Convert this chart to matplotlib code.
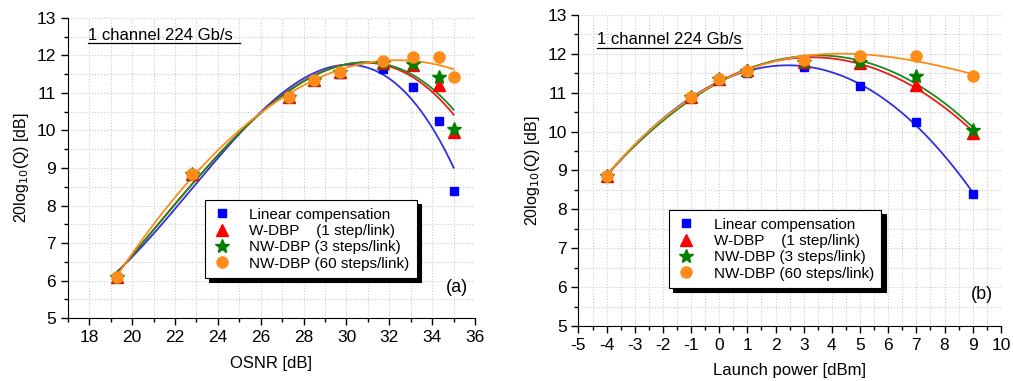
import numpy as np
import matplotlib.pyplot as plt
from matplotlib.ticker import MultipleLocator

plt.rcParams['font.family'] = ['Liberation Sans', 'DejaVu Sans']
plt.rcParams['axes.unicode_minus'] = False

# OSNR points (a) and launch powers (b)
osnr = [19.3, 22.8, 27.3, 28.5, 29.7, 31.7, 33.1, 34.3, 35.0]
power = [-4, -1, 0, 1, 3, 5, 7, 9]

# 20log10(Q) [dB], values for panel (a); panel (b) uses the last 8
q_linear = [6.1, 8.85, 10.9, 11.35, 11.5, 11.65, 11.17, 10.25, 8.4]
q_wdbp = [6.1, 8.85, 10.9, 11.35, 11.57, 11.8, 11.75, 11.2, 9.97]
q_nw3 = [6.1, 8.85, 10.9, 11.35, 11.55, 11.8, 11.78, 11.42, 10.03]
q_nw60 = [6.1, 8.85, 10.9, 11.35, 11.55, 11.85, 11.95, 11.95, 11.42]

labels = ['Linear compensation', 'W-DBP    (1 step/link)',
          'NW-DBP (3 steps/link)', 'NW-DBP (60 steps/link)']
series = [q_linear, q_wdbp, q_nw3, q_nw60]
markers = ['s', '^', '*', 'o']
msizes = [6, 8, 10, 8]
mcolors = ['#0000ff', '#ff0000', '#008000', '#ff8c1a']
lcolors = ['#3030e0', '#ee1c1c', '#1a8a1a', '#ff8c1a']

fig = plt.figure(figsize=(10.13, 3.81), dpi=100)
ax1 = fig.add_axes([0.067, 0.165, 0.402, 0.788])
ax2 = fig.add_axes([0.571, 0.144, 0.417, 0.817])


def draw_panel(ax, x, ys, deg, tag, leg_anchor, title_pos, ul):
    x = np.asarray(x, dtype=float)
    xx = np.linspace(x.min(), x.max(), 200)
    handles = []
    for y, lc in zip(ys, lcolors):
        y = np.asarray(y[-len(x):], dtype=float)
        p = np.polyfit(x, y, deg)
        ax.plot(xx, np.polyval(p, xx), '-', color=lc, lw=1.3, zorder=3)
    for y, m, ms, mc, lab in zip(ys, markers, msizes, mcolors, labels):
        y = np.asarray(y[-len(x):], dtype=float)
        h, = ax.plot(x, y, ls='none', marker=m, ms=ms, color=mc, mec=mc, label=lab, zorder=4)
        handles.append(h)
    ax.set_ylim(5, 13)
    ax.yaxis.set_major_locator(MultipleLocator(1))
    ax.yaxis.set_minor_locator(MultipleLocator(0.5))
    ax.grid(True, which='both', color='#cccccc', ls=':', lw=0.8)
    ax.set_axisbelow(True)
    for s in ['top', 'right']:
        ax.spines[s].set_visible(False)
    ax.tick_params(which='both', direction='out', labelsize=12.5, width=1)
    ax.tick_params(which='major', length=5)
    ax.tick_params(which='minor', length=3)
    ax.set_ylabel('20log$_{10}$(Q) [dB]', fontsize=11.5)
    leg = ax.legend(handles=handles, loc='lower left', bbox_to_anchor=leg_anchor,
                    fontsize=11, frameon=True, fancybox=False, edgecolor='black',
                    shadow={'color': 'black', 'alpha': 1, 'ox': 3, 'oy': -3},
                    handlelength=1.2, handletextpad=1.2, borderpad=0.5,
                    labelspacing=0.15, borderaxespad=0)
    leg.get_frame().set_linewidth(0.8)
    ax.text(title_pos[0], title_pos[1], '1 channel 224 Gb/s', transform=ax.transAxes,
            fontsize=12, ha='left', va='baseline')
    ax.plot(ul[0], ul[1], color='black', lw=0.9, transform=ax.transAxes, clip_on=False)
    ax.text(0.956, 0.103, tag, transform=ax.transAxes, fontsize=13,
            ha='center', va='center')


draw_panel(ax1, osnr, series, 3, '(a)', (0.337, 0.133), (0.049, 0.925),
           ([0.049, 0.423], [0.915, 0.915]))
ax1.set_xlim(17, 36)
ax1.xaxis.set_major_locator(MultipleLocator(2))
ax1.xaxis.set_minor_locator(MultipleLocator(1))
ax1.set_xlabel('OSNR [dB]', fontsize=12, labelpad=8)

draw_panel(ax2, power, series, 3, '(b)', (0.215, 0.122), (0.045, 0.905),
           ([0.045, 0.388], [0.892, 0.892]))
ax2.set_xlim(-5, 10)
ax2.xaxis.set_major_locator(MultipleLocator(1))
ax2.xaxis.set_minor_locator(MultipleLocator(0.5))
ax2.set_xlabel('Launch power [dBm]', fontsize=12, labelpad=7)

fig.savefig('out.png', dpi=100)
